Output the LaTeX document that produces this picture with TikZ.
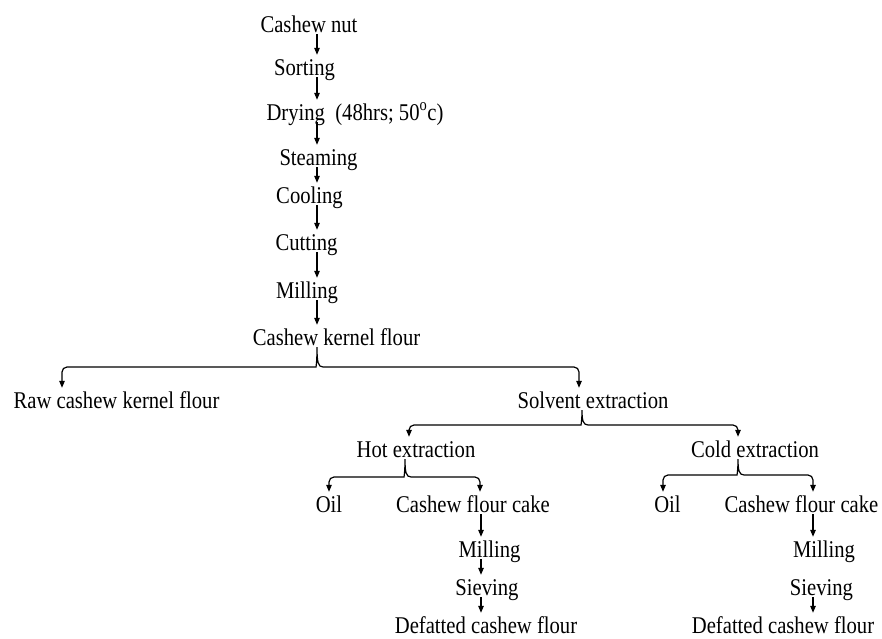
\documentclass[tikz,border=0pt]{standalone}
\usepackage{fontspec}
\setmainfont[FakeStretch=0.86]{Liberation Serif}
\usetikzlibrary{arrows.meta}

\tikzset{
  >={Triangle[length=7pt,width=5.5pt]},
  lbl/.style={anchor=base,inner xsep=0pt,inner ysep=2pt,text height=18pt,text depth=0pt},
  link/.style={->,line width=1.2pt},
}

% brace fork: parent, cusp x, line y, left child, left x, right child, right x
\newcommand{\fork}[7]{%
  \draw[link,<->] (#4.north -| #5,0) [rounded corners=5pt] -- (#5,#3) -- (#2-6,#3) [sharp corners]
    .. controls (#2-1,#3) and (#2,#3-5) .. (#1.south -| #2,0)
    .. controls (#2,#3-5) and (#2+1,#3) .. (#2+6,#3) [rounded corners=5pt] -- (#7,#3) -- (#6.north -| #7,0);
}

\begin{document}
\begin{tikzpicture}[x=1pt,y=-1pt,font=\fontsize{24pt}{28pt}\selectfont]
  \useasboundingbox (0,0) rectangle (882,638);

  \coordinate (spine) at (317,0);
  \coordinate (hotcol) at (481,0);
  \coordinate (coldcol) at (813,0);

  \node[lbl] (nut) at (309,32) {Cashew nut};
  \node[lbl] (sort) at (304.5,75) {Sorting};
  \node[lbl] (dry) at (355,120) {Drying\ \ (48hrs; 50\textsuperscript{o}c)};
  \node[lbl] (steam) at (318.5,165) {Steaming};
  \node[lbl] (cool) at (309.5,203) {Cooling};
  \node[lbl] (cut) at (306.5,250) {Cutting};
  \node[lbl] (mill) at (307,298) {Milling};
  \node[lbl] (ckf) at (336.5,345) {Cashew kernel flour};

  \draw[link] (nut.south -| spine) -- (sort.north -| spine);
  \draw[link] (sort.south -| spine) -- (dry.north -| spine);
  \draw[link] (dry.south -| spine) -- (steam.north -| spine);
  \draw[link] (steam.south -| spine) -- (cool.north -| spine);
  \draw[link] (cool.south -| spine) -- (cut.north -| spine);
  \draw[link] (cut.south -| spine) -- (mill.north -| spine);
  \draw[link] (mill.south -| spine) -- (ckf.north -| spine);

  \node[lbl] (raw) at (116.5,408) {Raw cashew kernel flour};
  \node[lbl] (solv) at (593,408) {Solvent extraction};
  \fork{ckf}{317}{367}{raw}{62}{solv}{579}

  \node[lbl] (hot) at (416,457) {Hot extraction};
  \node[lbl] (cold) at (755,457) {Cold extraction};
  \fork{solv}{582}{425}{hot}{409}{cold}{738}

  % hot branch
  \node[lbl] (oila) at (329,512) {Oil};
  \node[lbl] (cakea) at (473,512) {Cashew flour cake};
  \node[lbl] (milla) at (489.5,557) {Milling};
  \node[lbl] (sieva) at (487,595) {Sieving};
  \node[lbl] (defa) at (486,633) {Defatted cashew flour};
  \fork{hot}{405}{477}{oila}{329}{cakea}{480}
  \draw[link] (cakea.south -| hotcol) -- (milla.north -| hotcol);
  \draw[link] (milla.south -| hotcol) -- (sieva.north -| hotcol);
  \draw[link] (sieva.south -| hotcol) -- (defa.north -| hotcol);

  % cold branch
  \node[lbl] (oilb) at (667.5,512) {Oil};
  \node[lbl] (cakeb) at (801.5,512) {Cashew flour cake};
  \node[lbl] (millb) at (824,557) {Milling};
  \node[lbl] (sievb) at (821.5,595) {Sieving};
  \node[lbl] (defb) at (783,633) {Defatted cashew flour};
  \fork{cold}{738}{475}{oilb}{663}{cakeb}{813}
  \draw[link] (cakeb.south -| coldcol) -- (millb.north -| coldcol);
  \draw[link] (sievb.south -| coldcol) -- (defb.north -| coldcol);
\end{tikzpicture}
\end{document}
